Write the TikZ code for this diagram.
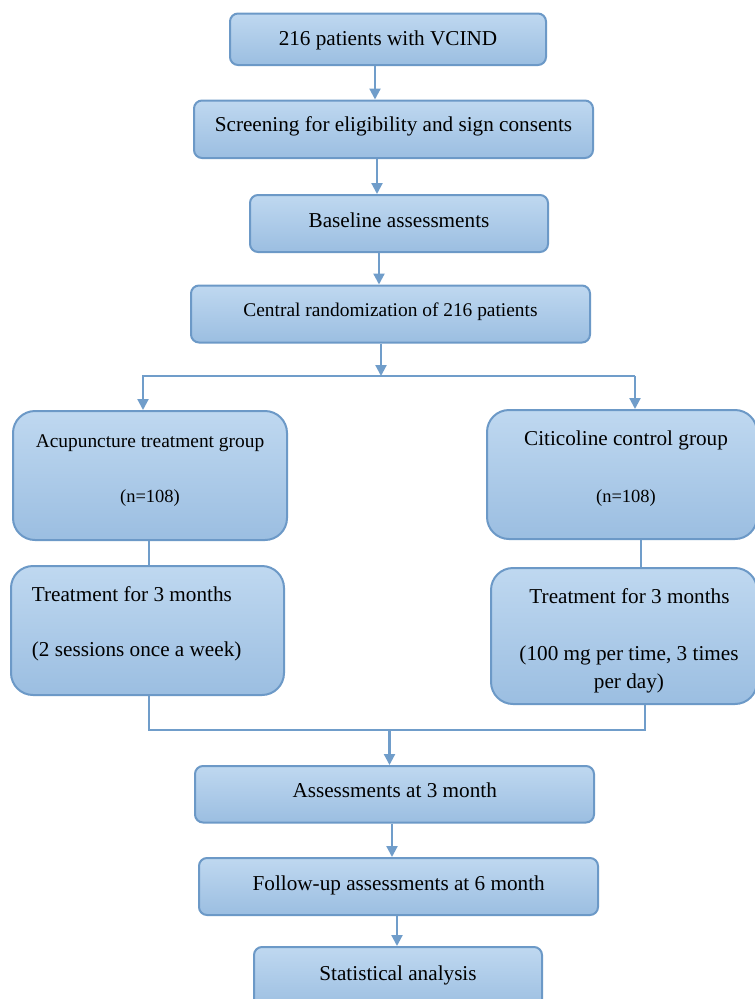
\documentclass[tikz,border=0pt]{standalone}
\usepackage{fontspec}
\setmainfont{Liberation Serif}
\usetikzlibrary{arrows.meta}
\definecolor{boxtop}{RGB}{191,216,240}
\definecolor{boxbot}{RGB}{155,190,225}
\definecolor{edgec}{RGB}{108,153,199}
\definecolor{linec}{RGB}{112,157,202}
\begin{document}
\begin{tikzpicture}[x=1pt,y=-1pt,
  box/.style={draw=edgec, line width=2pt, rounded corners=8pt, top color=boxtop, bottom color=boxbot, inner sep=0pt},
  bigbox/.style={box, rounded corners=22pt},
  txt/.style={anchor=base, inner sep=0pt, font=\fontsize{21.2}{25}\selectfont},
  stxt/.style={txt, font=\fontsize{19.4}{23}\selectfont},
  ntxt/.style={txt, font=\fontsize{18.5}{22}\selectfont},
  conn/.style={draw=linec, line width=2.2pt},
  arr/.style={conn, -{Triangle[length=11pt,width=11pt]}}]
\useasboundingbox (0,0) rectangle (755,999);
\clip (0,0) rectangle (755,999);
\fill[white] (0,0) rectangle (755,999);

% boxes
\node[box, minimum width=316pt, minimum height=51.5pt] (b1) at (388,39.25) {};
\node[box, minimum width=399pt, minimum height=57.5pt] (b2) at (393.5,129.25) {};
\node[box, minimum width=298pt, minimum height=57pt] (b3) at (399,223.5) {};
\node[box, minimum width=399pt, minimum height=57pt] (b4) at (390.5,314) {};
\node[bigbox, minimum width=274pt, minimum height=129pt] (b5) at (150,475.5) {};
\node[bigbox, minimum width=270pt, minimum height=129pt] (b6) at (622,474.5) {};
\node[bigbox, minimum width=273pt, minimum height=129pt] (b7) at (147.5,630.5) {};
\node[bigbox, minimum width=266pt, minimum height=136pt] (b8) at (624,636) {};
\node[box, minimum width=399pt, minimum height=56.5pt] (b9) at (394.5,794.25) {};
\node[box, minimum width=399pt, minimum height=57pt] (b10) at (398.5,886.5) {};
\node[box, minimum width=288pt, minimum height=63pt] (b11) at (398,978.5) {};

% texts
\node[txt] (t1) at (388,45) {216 patients with VCIND};
\node[txt] (t2) at (393.5,131) {Screening for eligibility and sign consents};
\node[txt] (t3) at (399,227.3) {Baseline assessments};
\node[stxt] (t4) at (390.5,316.7) {Central randomization of 216 patients};
\node[stxt] (t5a) at (150,447) {Acupuncture treatment group};
\node[ntxt] (t5b) at (150,502) {(n=108)};
\node[txt] (t6a) at (626,445) {Citicoline control group};
\node[ntxt] (t6b) at (626,502) {(n=108)};
\node[txt, anchor=base west] (t7a) at (31.7,601.7) {Treatment for 3 months};
\node[txt, anchor=base west] (t7b) at (31.7,656.5) {(2 sessions once a week)};
\node[txt] (t8a) at (629.5,603) {Treatment for 3 months};
\node[txt] (t8b) at (629,660) {(100 mg per time, 3 times};
\node[txt] (t8c) at (629,688) {per day)};
\node[txt] (t9) at (394.7,797.3) {Assessments at 3 month};
\node[txt] (t10) at (398.7,890) {Follow-up assessments at 6 month};
\node[txt] (t11) at (398,980) {Statistical analysis};

% connectors
\coordinate (split) at (381,376);
\coordinate (sl) at (143,376);
\coordinate (sr) at (635,376);
\coordinate (ml) at (149,730);
\coordinate (mr) at (645,730);
\coordinate (mid) at (389.5,730);

\draw[arr] (b1.south -| 375,0) -- (b2.north -| 375,0);
\draw[arr] (b2.south -| 377,0) -- (b3.north -| 377,0);
\draw[arr] (b3.south -| 379,0) -- (b4.north -| 379,0);
\draw[arr] (b4.south -| split) -- (split);
\draw[arr] (sr) -- (sl) -- (sl |- b5.north);
\draw[arr] (sr) -- (sr |- b6.north);
\draw[conn] (b5.south -| 149,0) -- (b7.north -| 149,0);
\draw[conn] (b6.south -| 641,0) -- (b8.north -| 641,0);
\draw[conn] (b7.south -| ml) -- (ml) -- (mr) -- (b8.south -| mr);
\draw[arr] (mid) -- (b9.north -| mid);
\draw[arr] (b9.south -| 392,0) -- (b10.north -| 392,0);
\draw[arr] (b10.south -| 397,0) -- (b11.north -| 397,0);
\end{tikzpicture}
\end{document}
